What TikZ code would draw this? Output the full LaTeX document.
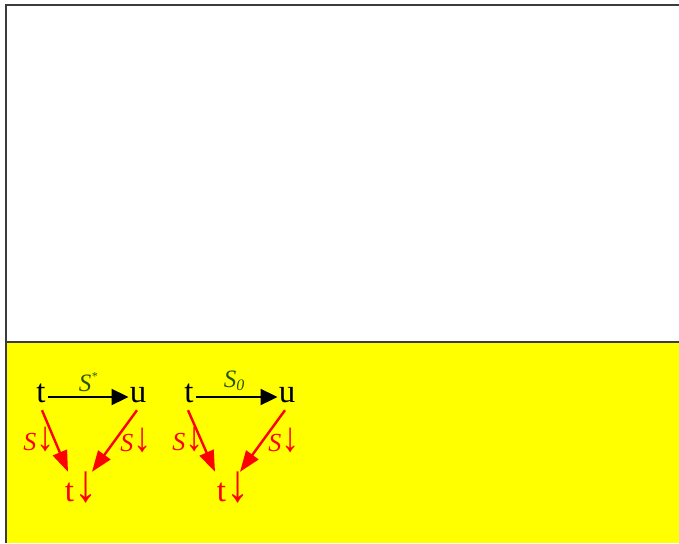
\documentclass[tikz,border=0pt]{standalone}
\usepackage{fontspec}
\setmainfont{Liberation Serif}
\usetikzlibrary{arrows.meta}
\definecolor{panel}{RGB}{255,255,0}
\definecolor{framegray}{RGB}{60,60,60}
\definecolor{labelgreen}{RGB}{45,85,0}
% a tall, wide-headed down arrow
\newcommand{\tallda}{\scalebox{1.4}[1.6]{\char"2193}}
\tikzset{
  obj/.style={inner sep=0pt, anchor=base, text height=10pt, text depth=0pt,
    font=\fontsize{33}{33}\selectfont},
  redobj/.style={inner sep=0pt, anchor=base, text height=22pt, text depth=0pt,
    text=red, font=\fontsize{33}{33}\selectfont},
  mlabel/.style={inner sep=0pt, font=\fontsize{25}{25}\selectfont\itshape, text=labelgreen},
  rlabel/.style={inner sep=0pt, anchor=base, font=\fontsize{26}{26}\selectfont, text=red},
  blackarrow/.style={line width=2pt, -{Triangle[length=17pt,width=16pt]}},
  redarrow/.style={line width=2.4pt, red, -{Triangle[length=21pt,width=15pt]}},
}
\begin{document}
\begin{tikzpicture}[x=1pt,y=-1pt]
  \useasboundingbox (0,0) rectangle (679,543);
  % page and lower panel
  \fill[white] (0,0) rectangle (679,543);
  \fill[panel] (7,342) rectangle (679,543);
  \draw[framegray, line width=1.2pt] (7,342) -- (679,342);
  \draw[framegray, line width=2pt] (6,543) -- (6,5) -- (679,5);

  % first triangle: S^*
  \node[obj] (t1) at (41,402) {t};
  \node[obj] (u1) at (138,402) {u};
  \node[redobj] (d1) at (81,501) {t\tallda};
  \draw[blackarrow] ([xshift=2pt]t1.east) -- ([xshift=-1pt]u1.west);
  \node[mlabel] (s1) at (88,382) {S\raisebox{1.0ex}{\fontsize{12}{12}\selectfont *}};
  \draw[redarrow] ([xshift=1pt,yshift=-8pt]t1.south) -- ([xshift=-13pt,yshift=7pt]d1.north);
  \draw[redarrow] ([xshift=-1pt,yshift=-8pt]u1.south) -- ([xshift=11pt,yshift=7pt]d1.north);
  \node[rlabel] (l1) at (39,450) {\textit{S}\tallda};
  \node[rlabel] (r1) at (136,451) {\textit{S}\tallda};

  % second triangle: S_0
  \node[obj] (t2) at (189,402) {t};
  \node[obj] (u2) at (287,402) {u};
  \node[redobj] (d2) at (233,501) {t\tallda};
  \draw[blackarrow] ([xshift=2pt]t2.east) -- ([xshift=-1pt]u2.west);
  \node[mlabel] (s2) at (234,381) {S\raisebox{-0.3ex}{\fontsize{16}{16}\selectfont 0}};
  \draw[redarrow] ([xshift=-1pt,yshift=-8pt]t2.south) -- ([xshift=-18pt,yshift=7pt]d2.north);
  \draw[redarrow] ([xshift=-2pt,yshift=-8pt]u2.south) -- ([xshift=7pt,yshift=7pt]d2.north);
  \node[rlabel] (l2) at (188,450) {\textit{S}\tallda};
  \node[rlabel] (r2) at (284,451) {\textit{S}\tallda};
\end{tikzpicture}
\end{document}
